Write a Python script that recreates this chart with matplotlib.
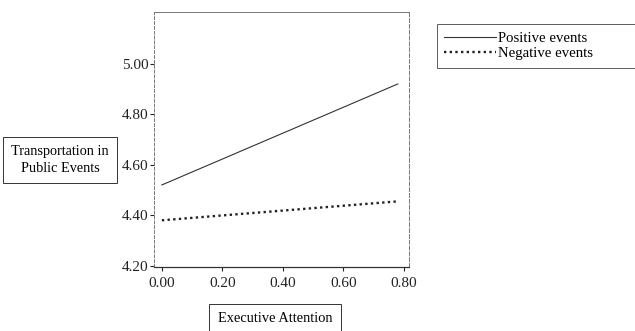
import matplotlib
matplotlib.use("Agg")
from matplotlib import pyplot as plt

plt.rcParams['font.family'] = ['Liberation Serif', 'DejaVu Serif']

# values
attention = [0.0, 0.78]
positive = [4.52, 4.92]
negative = [4.38, 4.455]
series_names = ["Positive events", "Negative events"]
yticks = [4.20, 4.40, 4.60, 4.80, 5.00]
xticks = [0.00, 0.20, 0.40, 0.60, 0.80]

fig = plt.figure(figsize=(6.35, 3.31), dpi=100)
ax = fig.add_axes([154/635, 1 - 267/331, (409-154)/635, (267-12)/331])

ax.plot(attention, positive, color="#333333", lw=0.8, label=series_names[0])
ax.plot(attention, negative, color="#222222", lw=1.7, ls=(0, (1, 1.4)), label=series_names[1])

ax.set_xlim(-0.026, 0.817)
ax.set_ylim(4.195, 5.205)
ax.set_yticks(yticks)
ax.set_yticklabels(["%.2f" % v for v in yticks])
ax.set_xticks(xticks)
ax.set_xticklabels(["%.2f" % v for v in xticks])
ax.tick_params(labelsize=11, length=3, width=0.8, colors="#222222")
ax.tick_params(axis="x", pad=4)
ax.tick_params(axis="y", pad=1)

for side in ["left", "right", "top"]:
    ax.spines[side].set_color("#777777")
    ax.spines[side].set_linewidth(0.7)
ax.spines["left"].set_linestyle((0, (3, 2)))
ax.spines["right"].set_linestyle((0, (4, 2)))
ax.spines["bottom"].set_color("#333333")
ax.spines["bottom"].set_linewidth(0.9)

box = dict(boxstyle="square,pad=0.6", fc="white", ec="#333333", lw=0.7)
fig.text(60/635, 1 - 160/331, "Transportation in\nPublic Events", ha="center", va="center",
         fontsize=10.3, bbox=box, linespacing=1.3)
fig.text(275/635, 1 - 319/331, "Executive Attention", ha="center", va="center",
         fontsize=10.4, bbox=box)

leg = fig.legend(loc="upper left", bbox_to_anchor=(437/635, 1 - 68/331, 205/635, 44/331),
                 mode="expand", fontsize=10.6, frameon=True, fancybox=False,
                 handlelength=3.5, handletextpad=0.15, borderpad=0.5,
                 labelspacing=0.15, borderaxespad=0)
leg.get_frame().set_edgecolor("#333333")
leg.get_frame().set_linewidth(0.7)

fig.savefig("out.png", dpi=100)
